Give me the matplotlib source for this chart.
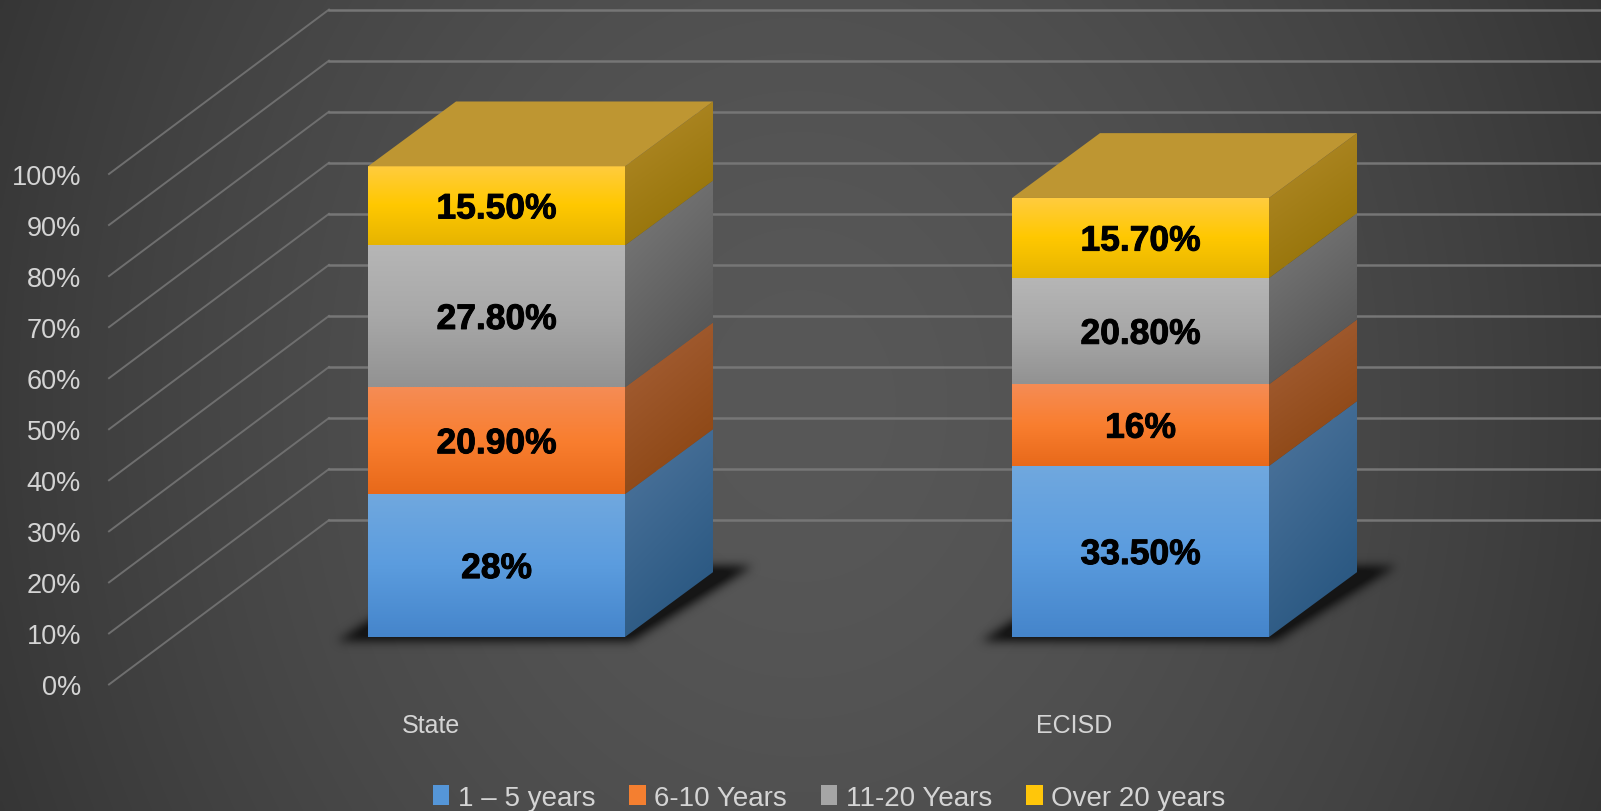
#!/usr/bin/env python3
import numpy as np
import matplotlib
matplotlib.use('Agg')
import matplotlib.pyplot as plt
import matplotlib.patheffects as pe
from matplotlib.colors import to_rgb
from matplotlib.patches import Patch, Polygon
from matplotlib.path import Path

categories = ['State', 'ECISD']
series_names = ['1 \u2013 5 years', '6-10 Years', '11-20 Years', 'Over 20 years']
short_term = [28.0, 33.5]
mid_term = [20.9, 16.0]
long_term = [27.8, 20.8]
over_twenty = [15.5, 15.7]
bar_labels = [['28%', '33.50%'], ['20.90%', '16%'], ['27.80%', '20.80%'], ['15.50%', '15.70%']]
tick_values = [0, 10, 20, 30, 40, 50, 60, 70, 80, 90, 100]

FRONT_COLORS = [('#70A8DF', '#5B9CDE', '#4585CB'),
                ('#F58C55', '#F97E2F', '#E8691A'),
                ('#B6B6B6', '#A8A8A8', '#929292'),
                ('#FFCC40', '#FFC800', '#E6B400')]
SIDE_COLORS = [('#4F769E', '#23527C'),
               ('#A8623A', '#87410C'),
               ('#7C7C7C', '#4E4E4E'),
               ('#B48C2C', '#8F6E00')]
TOP_COLOR = '#BE9632'
LEGEND_COLORS = ['#5596D8', '#F47F30', '#A5A5A5', '#FFC60A']
LABEL_FONT = 'Liberation Sans'
TEXT_COLOR = '#D4D4D4'

# layout in pixels of the 1601x812 picture, y stays in percent
BAR_X = [368, 1012]
BAR_W = 257
DEPTH_X = 88
DEPTH_Y = 12.7
PX_PER_PCT = 5.105
BASE_PX = 638


def gradient_poly(ax, verts, colors, diagonal=False, zorder=3):
    """Fill a polygon with a vertical or diagonal gradient, first color is the light end."""
    verts = np.array(verts, dtype=float)
    x0, x1 = verts[:, 0].min(), verts[:, 0].max()
    y0, y1 = verts[:, 1].min(), verts[:, 1].max()
    u, v = np.meshgrid(np.linspace(0, 1, 64), np.linspace(0, 1, 128))
    t = 0.3 * u + 0.7 * v if diagonal else v
    rgb = np.array([to_rgb(c) for c in colors])
    stops = np.linspace(0, 1, len(colors))
    img = np.dstack([np.interp(t, stops, rgb[:, i]) for i in range(3)])
    im = ax.imshow(img, extent=(x0, x1, y0, y1), origin='upper', aspect='auto',
                   interpolation='bilinear', zorder=zorder)
    im.set_clip_path(Polygon(verts, closed=True, transform=ax.transData))


def draw_shadow(ax, x, sigma=5.0):
    """Blurred dark shape on the floor behind and below the bar."""
    pts = [(x - 32, -0.9), (x + BAR_W + 6, -0.9),
           (x + BAR_W + DEPTH_X + 40, DEPTH_Y + 1.2), (x + DEPTH_X, DEPTH_Y + 1.2)]
    xs = np.arange(x - 60, x + BAR_W + DEPTH_X + 70)
    ys = np.arange(-6, DEPTH_Y + 7, 1 / PX_PER_PCT)
    gx, gy = np.meshgrid(xs, ys)
    mask = Path(pts).contains_points(np.c_[gx.ravel(), gy.ravel()]).reshape(gx.shape).astype(float)
    kernel = np.exp(-0.5 * (np.arange(-14, 15) / sigma) ** 2)
    kernel /= kernel.sum()
    mask = np.apply_along_axis(np.convolve, 0, mask, kernel, mode='same')
    mask = np.apply_along_axis(np.convolve, 1, mask, kernel, mode='same')
    img = np.zeros(mask.shape + (4,))
    img[..., :3] = 0.07
    img[..., 3] = np.clip(mask * 1.1, 0, 0.92)
    ax.imshow(img, extent=(xs[0], xs[-1], ys[0], ys[-1]), origin='lower', aspect='auto',
              interpolation='bilinear', zorder=2)


fig = plt.figure(figsize=(16.01, 8.12), dpi=100)
ax = fig.add_axes([0, 0, 1, 1])
ax.axis('off')

y_top = BASE_PX / PX_PER_PCT
y_bottom = -(812 - BASE_PX) / PX_PER_PCT

# background
gx, gy = np.meshgrid(np.linspace(-1, 1, 400), np.linspace(-1, 1, 200))
r = np.clip(np.sqrt(gx ** 2 + (0.42 * gy) ** 2), 0, 1.1)
shade = (0x58 - (0x58 - 0x3A) * r ** 1.6) / 255
ax.imshow(np.dstack([shade] * 3), extent=(0, 1601, y_bottom, y_top), aspect='auto',
          interpolation='bilinear', zorder=0)

# walls
for val in tick_values:
    ax.plot([109, 329], [val - 9.3, val + 22.9], color='#6F6F6F', lw=1.4, zorder=1)
    ax.plot([329, 1601], [val + 22.9, val + 22.9], color='#767676', lw=1.8, zorder=1)
    ax.text(81, val - 9.8, f'{val}%', ha='right', va='center', color=TEXT_COLOR,
            fontsize=19.5, family=LABEL_FONT, zorder=5)

# bars
stacks = np.array([short_term, mid_term, long_term, over_twenty])
for i, x in enumerate(BAR_X):
    draw_shadow(ax, x)
    bottom = 0.0
    for k, values in enumerate(stacks):
        top = bottom + values[i]
        gradient_poly(ax, [(x, bottom), (x + BAR_W, bottom), (x + BAR_W, top), (x, top)],
                      FRONT_COLORS[k])
        gradient_poly(ax, [(x + BAR_W, bottom), (x + BAR_W + DEPTH_X, bottom + DEPTH_Y),
                           (x + BAR_W + DEPTH_X, top + DEPTH_Y), (x + BAR_W, top)],
                      SIDE_COLORS[k], diagonal=True)
        ax.text(x + BAR_W / 2, (bottom + top) / 2 - 0.6, bar_labels[k][i], ha='center', va='center',
                color='black', fontsize=25.5, fontweight='bold', family=LABEL_FONT, zorder=6,
                path_effects=[pe.withStroke(linewidth=0.7, foreground='black')])
        bottom = top
    ax.add_patch(Polygon([(x, bottom), (x + BAR_W, bottom),
                          (x + BAR_W + DEPTH_X, bottom + DEPTH_Y), (x + DEPTH_X, bottom + DEPTH_Y)],
                         closed=True, fc=TOP_COLOR, ec='none', zorder=4))
    ax.text(x + BAR_W / 2 - 66, -17.2, categories[i], ha='center', va='center',
            color=TEXT_COLOR, fontsize=18, family=LABEL_FONT, zorder=5)

handles = [Patch(fc=c, ec='none', label=n) for c, n in zip(LEGEND_COLORS, series_names)]
ax.legend(handles=handles, loc='center', bbox_to_anchor=(829 / 1601, 1 - 799 / 812), ncol=4,
          frameon=False, labelcolor=TEXT_COLOR, prop={'family': LABEL_FONT, 'size': 20},
          handlelength=0.6, handleheight=0.75, handletextpad=0.3, columnspacing=1.22,
          borderpad=0, borderaxespad=0)

ax.set_xlim(0, 1601)
ax.set_ylim(y_bottom, y_top)

fig.savefig('out.png', dpi=100)
